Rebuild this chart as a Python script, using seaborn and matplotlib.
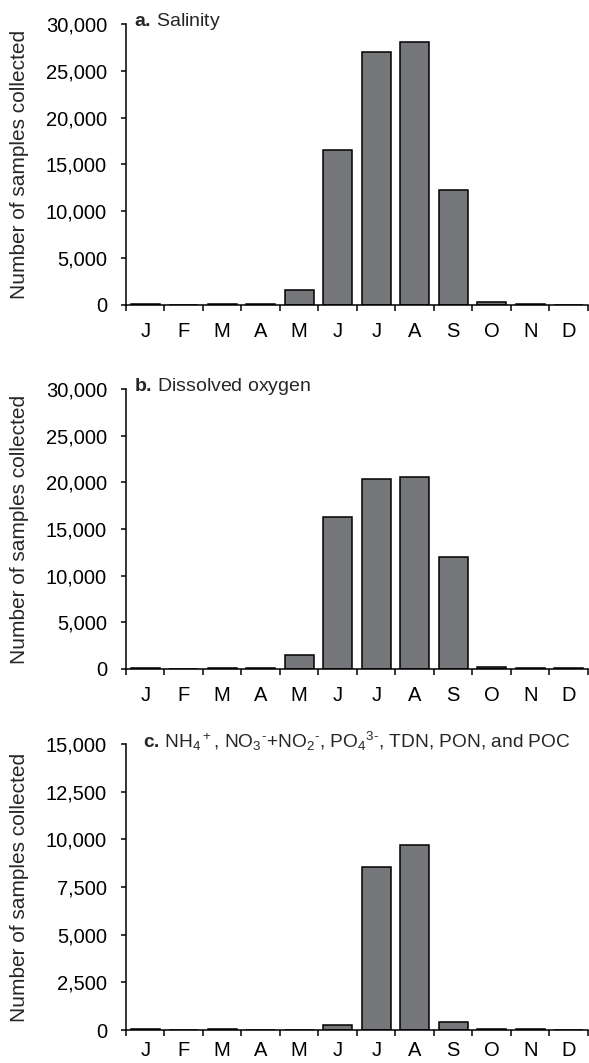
import numpy as np
import pandas as pd
import matplotlib
matplotlib.use('Agg')
import matplotlib.pyplot as plt
import seaborn as sns

months = ['J', 'F', 'M', 'A', 'M', 'J', 'J', 'A', 'S', 'O', 'N', 'D']
salinity = [80, 30, 60, 60, 1550, 16500, 27000, 28100, 12250, 300, 150, 50]
oxygen = [80, 30, 60, 60, 1500, 16300, 20400, 20600, 12000, 250, 120, 50]
nutrients = [80, 20, 60, 20, 20, 250, 8550, 9700, 400, 40, 40, 20]

titles = [r'$\mathbf{a.}\,$Salinity',
          r'$\mathbf{b.}\,$Dissolved oxygen',
          r'$\mathbf{c.}\,$NH$_4$$^+$, NO$_3$$^{\text{-}}$+NO$_2$$^{\text{-}}$, PO$_4$$^{3\text{-}}$, TDN, PON, and POC']
ymax = [30000, 30000, 15000]
ystep = [5000, 5000, 2500]

sns.set_theme(style='ticks')
plt.rcParams['font.family'] = ['Liberation Sans', 'DejaVu Sans']
plt.rcParams['mathtext.fontset'] = 'custom'
plt.rcParams['mathtext.rm'] = 'Liberation Sans'
plt.rcParams['mathtext.it'] = 'Liberation Sans:italic'
plt.rcParams['mathtext.bf'] = 'Liberation Sans:bold'

fig = plt.figure(figsize=(5.89, 10.63), dpi=100)
# axes boxes in figure fraction
boxes = [[0.2139, 0.7131, 0.7844, 0.2643],
         [0.2139, 0.3707, 0.7844, 0.2634],
         [0.2139, 0.0310, 0.7844, 0.2690]]
title_x = [0.017, 0.017, 0.036]
title_y = [0.992, 0.992, 0.985]
title_fs = [14, 14, 13.8]
xpad = [12, 12, 8]

for i, vals in enumerate([salinity, oxygen, nutrients]):
    ax = fig.add_axes(boxes[i])
    df = pd.DataFrame({'pos': np.arange(12), 'n': vals})
    sns.barplot(data=df, x='pos', y='n', color='#76777a', saturation=1,
                edgecolor='black', linewidth=1.1, width=0.76, ax=ax)
    ax.set_xlim(-0.5, 11.5)
    ax.set_ylim(0, ymax[i])
    ax.set_yticks(np.arange(0, ymax[i] + 1, ystep[i]))
    ax.set_yticklabels([f'{v:,}' for v in np.arange(0, ymax[i] + 1, ystep[i])], fontsize=14.5)
    ax.set_xticks(np.arange(12))
    ax.set_xticklabels(months, fontsize=14.5)
    ax.set_xticks(np.arange(-0.5, 12, 1), minor=True)
    ax.tick_params(axis='x', which='major', length=0, pad=xpad[i], colors='black')
    ax.tick_params(axis='x', which='minor', length=4, width=1.1, direction='out', color='black')
    ax.tick_params(axis='y', length=3.6, width=1.1, pad=10, colors='black')
    for s in ['top', 'right']:
        ax.spines[s].set_visible(False)
    for s in ['left', 'bottom']:
        ax.spines[s].set_linewidth(1.1)
        ax.spines[s].set_color('black')
    ax.set_xlabel('')
    ax.set_ylabel('Number of samples collected', fontsize=15)
    ax.yaxis.set_label_coords(-0.21, 0.5)
    ax.text(title_x[i], title_y[i], titles[i], transform=ax.transAxes,
            fontsize=title_fs[i], va='baseline', ha='left')

fig.savefig('out.png', dpi=100)
